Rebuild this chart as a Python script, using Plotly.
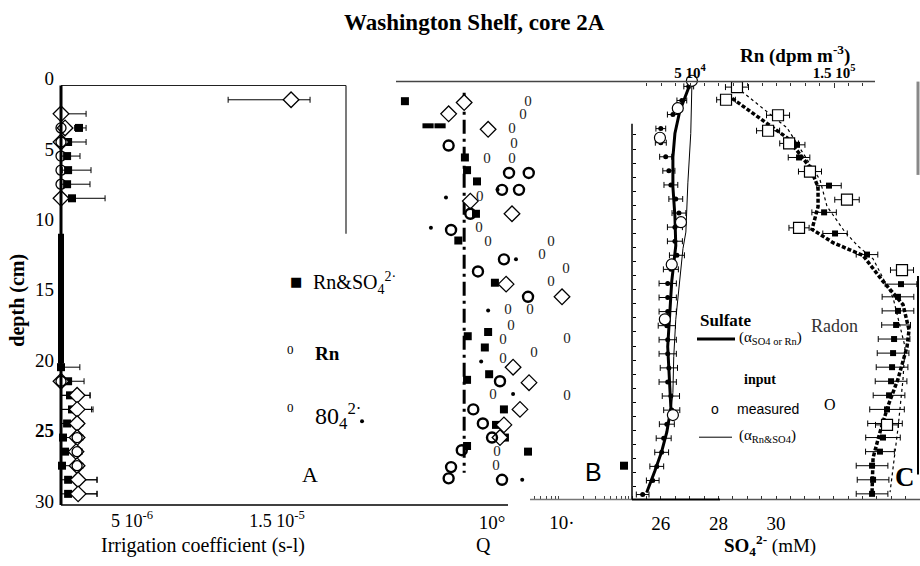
import plotly.graph_objects as go

W, H = 920, 566
SERIF = "Liberation Serif"
SANS = "Liberation Sans"

def fx(p):
    return p / W

def fy(p):
    return 1 - p / H

# ---------------- Panel A : irrigation coefficient (units of 1e-6 s-1) ----------------
a_sq_depth = [3.5, 4.5, 5.5, 6.5, 7.5, 8.5, 20.5, 21.5, 22.5, 23.5, 24.5, 25.5, 26.5, 27.5, 28.5, 29.5]
a_sq_val = [1.34, 0.59, 0.52, 0.59, 0.52, 0.86, 0.10, 0.59, 0.72, 0.86, 0.52, 0.24, 0.38, 0.17, 0.59, 0.59]
a_sq_errp = [0.49, 1.24, 0.89, 1.58, 1.58, 2.28, 1.30, 1.10, 1.38, 1.45, 1.03, 1.31, 1.17, 1.38, 2.00, 2.00]
a_sq_errm = [0.30, 0.40, 0.40, 0.40, 0.40, 0.70, 0.10, 0.50, 0.70, 0.80, 0.50, 0.20, 0.30, 0.15, 0.50, 0.50]

a_dm_depth = [1.5, 2.5, 3.5, 4.5, 8.5, 21.5, 22.5, 23.5, 24.5, 25.5, 26.5, 27.5, 28.5, 29.5]
a_dm_val = [15.97, 0.10, 0.38, 0.10, 0.10, 0.10, 1.21, 1.21, 1.21, 1.21, 1.14, 1.21, 1.28, 1.28]
a_dm_errp = [1.31, 1.73, 0.30, 0.30, 0.30, 0.30, 0.90, 1.00, 0.40, 0.40, 0.40, 0.40, 1.30, 1.30]
a_dm_errm = [4.34, 0.10, 0.30, 0.10, 0.10, 0.10, 1.10, 1.10, 0.30, 0.30, 0.30, 0.30, 0.50, 0.50]

a_ci_depth = [3.5, 4.5, 5.5, 6.5, 7.5, 21.5, 25.5, 26.5, 27.5]
a_ci_val = [0.10, 0.10, 0.10, 0.10, 0.10, 0.10, 1.21, 1.21, 1.21]

a_xticks = [5e-6, 1.5e-5]
a_xticktext = ["5 10<sup>-6</sup>", "1.5 10<sup>-5</sup>"]
depth_ticks = [0, 5, 10, 15, 20, 25, 30]
depth_ticktext = ["0", "5", "10", "15", "20", "<b>25</b>", "30"]

# ---------------- Panel B : Q (log) ----------------
b_sq_q = [0.057, 0.41, 0.44, 0.61, 0.59, 0.33, 1.10, 0.45, 0.88, 0.79, 0.44, 0.91, 1.48, 1.14, 1.53, 0.44, 3.27, 76.9]
b_sq_d = [1.6, 5.6, 6.5, 7.3, 9.6, 11.5, 14.5, 18.3, 18.0, 19.1, 21.4, 21.0, 23.5, 24.6, 25.5, 26.1, 26.5, 27.5]
b_dm_q = [0.40, 0.24, 0.88, 0.49, 1.93, 1.59, 10.0, 2.0, 3.38, 2.51, 1.48, 1.30]
b_dm_d = [1.7, 2.5, 3.6, 8.7, 9.6, 14.6, 15.5, 20.5, 21.6, 23.5, 24.6, 25.5]
b_ci_q = [0.24, 1.75, 3.35, 1.39, 2.43, 0.49, 0.26, 1.48, 0.63, 3.27, 1.30, 0.54, 0.74, 1.0, 0.37, 0.26, 0.24, 1.39]
b_ci_d = [4.75, 6.7, 6.7, 7.9, 7.9, 9.6, 10.75, 12.84, 13.7, 15.5, 21.5, 23.5, 24.5, 25.5, 26.4, 27.6, 28.4, 28.5]
b_zero_q = [3.27, 2.77, 1.93, 2.06, 0.85, 1.93, 0.67, 0.65, 0.88, 6.96, 5.18, 11.4, 6.96, 1.69, 3.49,
            1.87, 1.44, 11.8, 3.98, 1.44, 1.03, 11.8, 1.18, 1.14]
b_zero_d = [1.67, 2.58, 3.63, 4.68, 5.72, 5.72, 8.44, 10.6, 11.6, 11.6, 12.56, 13.54, 14.45, 16.47, 16.47,
            17.59, 18.56, 18.49, 19.54, 19.96, 22.47, 22.54, 26.52, 27.56]
b_dot_q = [0.22, 0.134, 2.2, 0.88, 0.70, 2.0, 0.0139, 2.7, 1.2]
b_dot_d = [8.44, 10.6, 12.84, 16.47, 20.1, 22.4, 24.35, 28.5, 7.9]
b_dash_q = [0.122, 0.181]
b_dash_d = [3.35, 3.35]
b_line_q = [0.40, 0.40]
b_line_d = [1.0, 28.0]
b_xticks = [1, 10]
b_xticktext = ["10°", "10·"]
b_minor = [4, 5, 6, 7, 8, 9, 20, 30, 40, 50, 60, 70, 80, 90]

# ---------------- Panel C : sulfate (mM, bottom) and radon (dpm m-3, top) ----------------
so4_depth = [0.55 + i for i in range(30)]
so4_val = [26.97, 26.73, 26.42, 26.00, 26.00, 26.17, 26.28, 26.35, 26.52, 26.63, 26.49, 26.49, 26.56, 26.35, 26.24,
           26.24, 26.24, 26.21, 26.24, 26.24, 26.28, 26.24, 26.35, 26.38, 26.21, 26.10, 26.03, 25.86, 25.72, 25.37]
so4_err = [0.17, 0.17, 0.19, 0.17, 0.19, 0.21, 0.21, 0.24, 0.24, 0.24, 0.26, 0.26, 0.26, 0.26, 0.30,
           0.30, 0.30, 0.30, 0.30, 0.30, 0.30, 0.30, 0.30, 0.28, 0.26, 0.26, 0.24, 0.24, 0.22, 0.22]
so4_meas_depth = [0.15, 2.1, 4.2, 10.2, 13.2, 17.1, 23.9]
so4_meas_val = [27.08, 26.59, 25.97, 26.70, 26.38, 26.14, 26.42]
so4_thick_depth = [0.63, 2.3, 3.9, 5.58, 7.68, 9.77, 11.86, 14.4, 19.05, 22.5, 23.4, 25.1, 26.5, 27.9, 29.4]
so4_thick_val = [26.97, 26.66, 26.49, 26.42, 26.42, 26.49, 26.52, 26.38, 26.24, 26.31, 26.35, 26.21, 26.03, 25.79, 25.51]
so4_thin_depth = [0.42, 3.9, 7.4, 10.9, 12.07, 14.4, 17.1, 19.75, 22.3, 23.7, 25.1, 26.5, 27.9, 29.4]
so4_thin_val = [27.08, 27.04, 26.94, 26.87, 26.77, 26.66, 26.52, 26.45, 26.42, 26.35, 26.21, 26.03, 25.79, 25.51]
so4_xticks = [26, 28, 30]

rn_meas_depth = [0.6, 1.5, 2.6, 3.7, 4.6, 6.6, 8.6, 10.6, 13.6, 24.6]
rn_meas_val = [8.26e4, 7.50e4, 11.11e4, 10.42e4, 11.88e4, 13.33e4, 15.90e4, 12.57e4, 19.72e4, 18.68e4]
rn_meas_err = [0.8e4, 0.65e4, 0.8e4, 0.8e4, 0.65e4, 0.8e4, 0.85e4, 0.7e4, 0.8e4, 0.8e4]
rn_calc_depth = [4.7, 5.6, 7.6, 9.5, 11.0, 12.5, 14.6, 15.5, 16.5, 17.5, 18.5, 19.5, 20.5, 21.5, 22.5, 23.5,
                 24.5, 25.5, 26.5, 27.5, 28.5, 29.5]
rn_calc_val = [12.43e4, 12.57e4, 14.65e4, 14.31e4, 15.07e4, 17.29e4, 19.65e4, 19.44e4, 19.44e4, 19.31e4, 19.17e4,
               19.10e4, 19.03e4, 18.96e4, 18.82e4, 18.68e4, 18.54e4, 18.40e4, 18.19e4, 17.64e4, 17.71e4, 17.64e4]
rn_calc_err = [0.55e4, 0.75e4, 0.85e4, 0.85e4, 0.85e4, 0.75e4, 1.1e4, 1.1e4, 1.1e4, 1.0e4, 1.1e4, 1.1e4, 1.1e4,
               1.1e4, 1.1e4, 1.2e4, 1.2e4, 1.2e4, 1.0e4, 1.1e4, 1.1e4, 1.1e4]
rn_thick_depth = [1.4, 4.2, 6.3, 7.7, 9.1, 10.7, 11.65, 12.56, 14.4, 16.05, 17.86, 19.05, 21.35, 23.24, 25.12, 26.94, 29.38]
rn_thick_val = [7.92e4, 11.74e4, 13.33e4, 13.89e4, 13.89e4, 13.47e4, 14.93e4, 17.01e4, 18.40e4, 19.79e4, 20.21e4,
                20.07e4, 19.44e4, 18.75e4, 18.19e4, 17.71e4, 17.64e4]
rn_thin_depth = [0.63, 3.5, 7.2, 9.07, 10.9, 11.9, 12.8, 15.56, 19.05, 21.35, 24.84, 27.9, 29.38]
rn_thin_val = [8.26e4, 11.74e4, 14.03e4, 14.51e4, 15.76e4, 16.67e4, 17.71e4, 19.10e4, 19.93e4, 19.79e4, 19.44e4,
               19.10e4, 18.89e4]
rn_xticks = [5e4, 1.5e5]
rn_xticktext = ["<b>5 10<sup>4</sup></b>", "<b>1.5 10<sup>5</sup></b>"]
rn_minor = [2e4, 3e4, 4e4, 6e4, 7e4, 8e4, 9e4, 1e5, 1.1e5, 1.2e5, 1.3e5, 1.4e5, 1.6e5, 1.7e5]
c_left_ticks = list(range(4, 30))

fig = go.Figure()
E = 1e-6

# Panel A traces
fig.add_trace(go.Scatter(
    x=[v * E for v in a_sq_val], y=a_sq_depth, mode="markers", xaxis="x", yaxis="y",
    marker=dict(symbol="square", size=8, color="black"),
    error_x=dict(type="data", symmetric=False, array=[v * E for v in a_sq_errp],
                 arrayminus=[v * E for v in a_sq_errm], thickness=1, width=3, color="black"),
    cliponaxis=False))
fig.add_trace(go.Scatter(
    x=[v * E for v in a_dm_val], y=a_dm_depth, mode="markers", xaxis="x", yaxis="y",
    marker=dict(symbol="diamond", size=12, color="white", line=dict(color="black", width=1.3)),
    error_x=dict(type="data", symmetric=False, array=[v * E for v in a_dm_errp],
                 arrayminus=[v * E for v in a_dm_errm], thickness=1, width=3, color="black"),
    cliponaxis=False))
fig.add_trace(go.Scatter(
    x=[v * E for v in a_ci_val], y=a_ci_depth, mode="markers", xaxis="x", yaxis="y",
    marker=dict(symbol="circle-open", size=10, color="black", line=dict(width=1.3)),
    cliponaxis=False))

# Panel B traces
fig.add_trace(go.Scatter(x=b_line_q, y=b_line_d, mode="lines", xaxis="x2", yaxis="y",
                         line=dict(color="black", width=3, dash="14px,5px,3px,5px")))
fig.add_trace(go.Scatter(x=b_sq_q, y=b_sq_d, mode="markers", xaxis="x2", yaxis="y",
                         marker=dict(symbol="square", size=8, color="black"), cliponaxis=False))
fig.add_trace(go.Scatter(x=b_dm_q, y=b_dm_d, mode="markers", xaxis="x2", yaxis="y",
                         marker=dict(symbol="diamond", size=12, color="white",
                                     line=dict(color="black", width=1.3)), cliponaxis=False))
fig.add_trace(go.Scatter(x=b_ci_q, y=b_ci_d, mode="markers", xaxis="x2", yaxis="y",
                         marker=dict(symbol="circle-open", size=10, color="black",
                                     line=dict(width=2.4)), cliponaxis=False))
fig.add_trace(go.Scatter(x=b_zero_q, y=b_zero_d, mode="text", xaxis="x2", yaxis="y",
                         text=["0"] * len(b_zero_q), textfont=dict(family=SERIF, size=15, color="#222"),
                         cliponaxis=False))
fig.add_trace(go.Scatter(x=b_dot_q, y=b_dot_d, mode="markers", xaxis="x2", yaxis="y",
                         marker=dict(symbol="circle", size=4, color="black"), cliponaxis=False))
fig.add_trace(go.Scatter(x=b_dash_q, y=b_dash_d, mode="markers", xaxis="x2", yaxis="y",
                         marker=dict(symbol="line-ew", size=8, line=dict(width=5, color="black")),
                         cliponaxis=False))

# Panel C traces : sulfate
fig.add_trace(go.Scatter(x=so4_thin_val, y=so4_thin_depth, mode="lines", xaxis="x3", yaxis="y",
                         line=dict(color="black", width=1)))
fig.add_trace(go.Scatter(x=so4_thick_val, y=so4_thick_depth, mode="lines", xaxis="x3", yaxis="y",
                         line=dict(color="black", width=3)))
fig.add_trace(go.Scatter(x=so4_val, y=so4_depth, mode="markers", xaxis="x3", yaxis="y",
                         marker=dict(symbol="circle", size=5, color="black"),
                         error_x=dict(type="data", array=so4_err, thickness=1, width=3, color="black")))
fig.add_trace(go.Scatter(x=so4_meas_val, y=so4_meas_depth, mode="markers", xaxis="x3", yaxis="y",
                         marker=dict(symbol="circle", size=11, color="white",
                                     line=dict(color="black", width=1.2)), cliponaxis=False))

# Panel C traces : radon
fig.add_trace(go.Scatter(x=rn_thin_val, y=rn_thin_depth, mode="lines", xaxis="x4", yaxis="y",
                         line=dict(color="black", width=1.2, dash="dot")))
fig.add_trace(go.Scatter(x=rn_thick_val, y=rn_thick_depth, mode="lines", xaxis="x4", yaxis="y",
                         line=dict(color="black", width=3.5, dash="4px,2px")))
fig.add_trace(go.Scatter(x=rn_calc_val, y=rn_calc_depth, mode="markers", xaxis="x4", yaxis="y",
                         marker=dict(symbol="square", size=6, color="black"),
                         error_x=dict(type="data", array=rn_calc_err, thickness=1, width=3, color="black"),
                         cliponaxis=False))
fig.add_trace(go.Scatter(x=rn_meas_val, y=rn_meas_depth, mode="markers", xaxis="x4", yaxis="y",
                         marker=dict(symbol="square", size=11, color="white",
                                     line=dict(color="black", width=1.2)),
                         error_x=dict(type="data", array=rn_meas_err, thickness=1, width=3, color="black"),
                         cliponaxis=False))
# empty trace that activates the tick-only depth axis on the left of panel C
fig.add_trace(go.Scatter(x=[None], y=[None], xaxis="x3", yaxis="y2", showlegend=False))

ydom = [fy(511), fy(70)]
yrange = [30.29, -0.49]
nogrid = dict(showgrid=False, zeroline=False, showline=False)

fig.update_layout(
    width=W, height=H, margin=dict(l=0, r=0, t=0, b=0),
    paper_bgcolor="white", plot_bgcolor="white", showlegend=False,
    font=dict(family=SERIF, color="black"),
    yaxis=dict(domain=ydom, range=yrange, anchor="x", tickvals=depth_ticks, ticktext=depth_ticktext,
               ticks="", tickfont=dict(family=SERIF, size=19, color="black"), ticklabelstandoff=6, **nogrid),
    yaxis2=dict(overlaying="y", range=yrange, anchor="free", position=fx(632), side="right",
                tickvals=c_left_ticks, ticks="outside", ticklen=3, tickcolor="black",
                showticklabels=False, **nogrid),
    xaxis=dict(domain=[fx(61), fx(346)], range=[1e-7, 1.976e-5], anchor="y",
               tickvals=a_xticks, ticktext=a_xticktext, ticks="",
               tickfont=dict(family=SERIF, size=18, color="black"), ticklabelstandoff=3, **nogrid),
    xaxis2=dict(domain=[fx(360), fx(632)], type="log", range=[-1.886, 2.0], anchor="free", position=fy(506),
                tickvals=b_xticks, ticktext=b_xticktext, ticks="",
                minor=dict(tickvals=b_minor, ticks="inside", ticklen=4, tickcolor="#444"),
                tickfont=dict(family=SERIF, size=19, color="black"), ticklabelstandoff=9, **nogrid),
    xaxis3=dict(domain=[fx(632), 1.0], range=[25.0, 35.0], anchor="free", position=fy(505.5),
                tickvals=so4_xticks, ticks="",
                minor=dict(dtick=0.5, ticks="inside", ticklen=4, tickcolor="#333"),
                tickfont=dict(family=SERIF, size=19, color="black"), ticklabelstandoff=10, **nogrid),
    xaxis4=dict(overlaying="x3", range=[0.97e4, 20.97e4], anchor="free", position=fy(80), side="top",
                tickvals=rn_xticks, ticktext=rn_xticktext, ticks="inside", ticklen=5, tickcolor="#333",
                minor=dict(tickvals=rn_minor, ticks="inside", ticklen=3, tickcolor="#333"),
                tickfont=dict(family=SERIF, size=15, color="black"), ticklabelstandoff=1, **nogrid),
)

def hline(x0, x1, y, w=1.5, c="black"):
    return dict(type="line", xref="paper", yref="paper", x0=fx(x0), x1=fx(x1), y0=fy(y), y1=fy(y),
                line=dict(color=c, width=w))

def vline(x, y0, y1, w=1.5, c="black"):
    return dict(type="line", xref="paper", yref="paper", x0=fx(x), x1=fx(x), y0=fy(y0), y1=fy(y1),
                line=dict(color=c, width=w))

shapes = [
    hline(61, 346, 84, 1.2, "#222"),
    vline(346, 84, 235, 1.2, "#222"),
    vline(61, 84, 511, 3, "black"),
    vline(61, 235, 367, 6, "black"),
    hline(61, 508, 511, 1.5, "black"),
    hline(396, 875, 80, 1.5, "#444"),
    hline(530, 632, 505.5, 1.5, "#777"),
    hline(632, 720, 505.5, 2, "black"),
    hline(720, 920, 505.5, 1.5, "#555"),
    vline(632, 123, 505.5, 1.5, "black"),
    vline(918, 80, 175, 3, "#888"),
    vline(918, 278, 480, 2, "black"),
    hline(697, 735, 342, 3, "black"),
    hline(699, 732, 442, 1, "black"),
]

def ann(x, y, text, size, family=SERIF, xanchor="center", color="black", angle=0):
    return dict(x=fx(x), y=fy(y), xref="paper", yref="paper", text=text, showarrow=False,
                xanchor=xanchor, yanchor="middle", textangle=angle,
                font=dict(family=family, size=size, color=color))

annotations = [
    ann(475, 20, "<b>Washington Shelf, core 2A</b>", 23),
    ann(18, 303, "<b>depth (cm)</b>", 20, angle=-90),
    ann(203, 552, "Irrigation coefficient (s-l)", 20),
    ann(484, 552, "Q", 20),
    ann(770, 552, "<b>SO</b><sub><b>4</b></sub><sup><b>2-</b></sup> (mM)", 19),
    ann(795, 52, "<b>Rn (dpm m<sup>-3</sup>)</b>", 19),
    ann(296, 283, "■", 13, family="DejaVu Sans"),
    ann(311, 285, "Rn&SO<sub>4</sub><sup>2·</sup>", 20, xanchor="left"),
    ann(290, 353, "0", 13),
    ann(313, 357, "<b>Rn</b>", 19, xanchor="left"),
    ann(290, 412, "0", 13),
    ann(313, 420, "80<sub>4</sub><sup>2·</sup>", 24, xanchor="left"),
    ann(310, 480, "A", 22),
    ann(593, 477, "B", 25, family=SANS),
    ann(905, 483, "<b>C</b>", 27),
    ann(725, 323, "<b>Sulfate</b>", 17),
    ann(834, 329, "Radon", 18, color="#333"),
    ann(737, 341, "(α<sub>SO4 or Rn</sub>)", 15, xanchor="left"),
    ann(760, 383, "<b>input</b>", 14),
    ann(715, 413, "o", 14, family=SANS),
    ann(768, 413, "measured", 14, family=SANS),
    ann(830, 409, "O", 16),
    ann(737, 441, "(α<sub>Rn&SO4</sub>)", 15, xanchor="left"),
]

fig.update_layout(shapes=shapes, annotations=annotations)
fig.write_html("out.html")
